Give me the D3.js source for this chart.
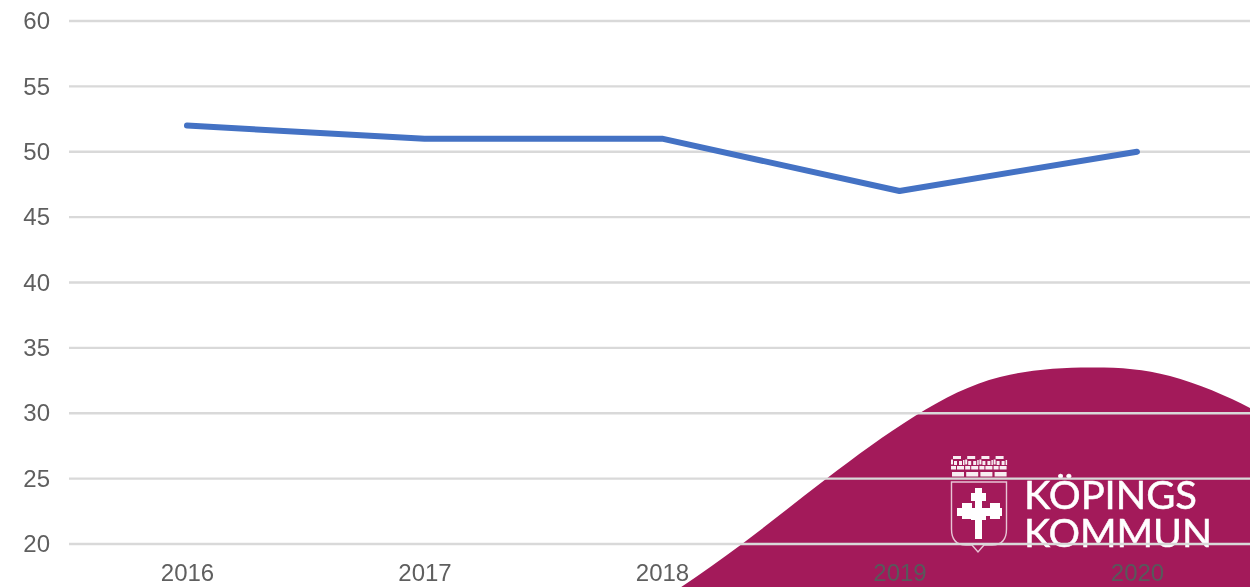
<!DOCTYPE html>
<html><head><meta charset="utf-8">
<script src="https://cdn.jsdelivr.net/npm/d3@7"></script>
<style>html,body{margin:0;padding:0;background:#fff;overflow:hidden}svg{display:block;filter:blur(0.4px)}</style>
</head><body><svg id="c" width="1250" height="587"></svg>
<script>
const years = ["2016","2017","2018","2019","2020"];
const values = [52,51,51,47,50];
const yTicks = [20,25,30,35,40,45,50,55,60];
const blobEdge = [[668,596],[742,544],[826,479],[915,416],[1000,377],[1090,367.5],[1170,376],[1250,408],[1300,440]];
const logoLines = ["KÖPINGS","KOMMUN"];

const svg = d3.select("#c");
const x = d3.scalePoint().domain(years).range([187,1137]);
const y = d3.scaleLinear().domain([20,60]).range([544,21]);

// background brand shape
const blobLine = d3.line().curve(d3.curveNatural);
svg.append("path").attr("d", blobLine(blobEdge)+"L1300,600L668,600Z").attr("fill","#a31a5a");

// logo
const logo = svg.append("g").attr("fill","#fff");
d3.range(4).forEach(i=>{
  const bx = 951+i*14.2;
  [[2,0,8,3],[0,3.5,2,5],[3,5,3,4],[8,5,3,4],[12,4,1.5,5],[0,10,5,3.5],[6,10,7,3.5],[1,16,12,4.5]].forEach(r=>{
    logo.append("rect").attr("x",bx+r[0]).attr("y",456+r[1]).attr("width",r[2]).attr("height",r[3]).attr("opacity",.92);
  });
});
// shield
logo.append("path").attr("d","M951.5,482V529Q951.5,545 966,545H972L978,552L984,545H992Q1006.5,545 1006.5,529V482Z")
  .attr("fill","none").attr("stroke","#fff").attr("stroke-opacity",.75).attr("stroke-width",1.4);
// cross
[[975,488,7,51],[971,493,15,8],[962,503,10,16],[990,503,10,16],[957,508,45,8],[971,508,15,12]].forEach(r=>{
  logo.append("rect").attr("x",r[0]).attr("y",r[1]).attr("width",r[2]).attr("height",r[3]);
});
logo.selectAll("text").data(logoLines).join("text")
  .attr("x",1024).attr("y",(d,i)=>i?547:509)
  .attr("textLength",(d,i)=>i?188:173).attr("lengthAdjust","spacingAndGlyphs")
  .attr("font-family","Lato, 'Open Sans', sans-serif").attr("font-size",38).attr("fill","#fff")
  .attr("stroke","#fff").attr("stroke-width",0.5)
  .text(d=>d);

// grid
svg.append("g").selectAll("line").data(yTicks).join("line")
  .attr("x1",69).attr("x2",1250).attr("y1",d=>y(d)).attr("y2",d=>y(d))
  .attr("stroke","#d9d9d9").attr("stroke-width",2.4);

// y axis labels
const yAxis = d3.axisLeft(y).tickValues(yTicks).tickSize(0).tickPadding(0);
const gy = svg.append("g").attr("transform","translate(50,0)").call(yAxis);
gy.select(".domain").remove();
gy.selectAll("text").attr("font-family","'Liberation Sans',Arial,sans-serif").attr("font-size",24).attr("fill","#5f5f5f");

// x axis labels
const xAxis = d3.axisBottom(x).tickSize(0).tickPadding(0);
const gx = svg.append("g").attr("transform","translate(0,564)").call(xAxis);
gx.select(".domain").remove();
gx.selectAll("text").attr("font-family","'Liberation Sans',Arial,sans-serif").attr("font-size",24)
  .attr("fill",d=>(d==="2019"||d==="2020")?"#58595b":"#5f5f5f");

// line
svg.append("path").datum(values)
  .attr("d",d3.line().x((d,i)=>x(years[i])).y(d=>y(d)))
  .attr("fill","none").attr("stroke","#4472c4").attr("stroke-width",6)
  .attr("stroke-linecap","round").attr("stroke-linejoin","round");
</script></body></html>
